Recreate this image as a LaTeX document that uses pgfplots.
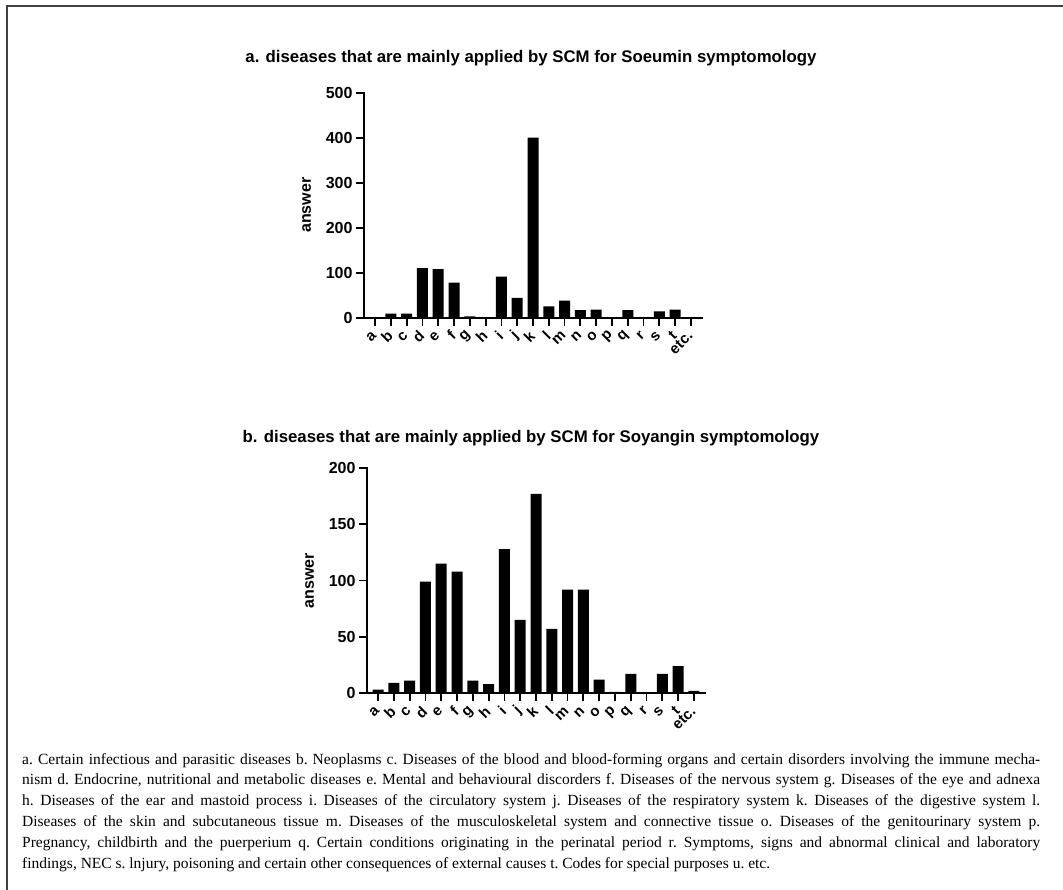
\documentclass[border=0pt]{standalone}
\usepackage{pgfplots}
\pgfplotsset{compat=1.18}
\usepackage{fontspec}
\setmainfont{Liberation Serif}
\setsansfont{Liberation Sans}

\pgfplotsset{
  scm/.style={
    scale only axis, width=338pt, height=225pt,
    anchor=south west,
    axis lines*=left,
    axis line style={line width=2pt, line cap=rect},
    xmin=-0.7, xmax=20.7, ymin=0,
    xtick={0,...,20},
    xticklabels={a,b,c,d,e,f,g,h,i,j,k,l,m,n,o,p,q,r,s,t,etc.},
    tick style={line width=1.8pt, black},
    major tick length=8pt,
    tick align=outside,
    ybar, bar width=11pt,
    /pgf/number format/assume math mode=true,
    ticklabel style={font=\sffamily\bfseries\fontsize{16}{16}\selectfont},
    xticklabel style={rotate=45, anchor=east, inner sep=1pt, font=\sffamily\bfseries\fontsize{15}{15}\selectfont},
    xticklabel shift=7pt,
    ylabel={answer},
    ylabel style={font=\sffamily\bfseries\fontsize{16}{16}\selectfont, at={(axis description cs:-0.17,0.5)}, anchor=center},
    clip=false,
  }
}

\pgfplotstableread{
cat A B
0 0 3
1 9 9
2 9 11
3 110 99
4 108 115
5 78 108
6 3 11
7 0 8
8 91 128
9 44 65
10 400 177
11 25 57
12 38 92
13 17 92
14 18 12
15 0 1
16 17 17
17 0 0
18 14 17
19 18 24
20 0 2
}\scmdata

\begin{document}
\begin{tikzpicture}
\path[use as bounding box] (0pt,0pt) rectangle (1063pt,-890pt);
\draw[black!75, line width=1.5pt] (7pt,-890pt) -- (7pt,-6pt) -- (1063pt,-6pt);

\node[font=\sffamily\bfseries\fontsize{16.8}{16.8}\selectfont] at (531pt,-58pt)
  {a. diseases that are mainly applied by SCM for Soeumin symptomology};
\node[font=\sffamily\bfseries\fontsize{16.8}{16.8}\selectfont] at (531pt,-438pt)
  {b. diseases that are mainly applied by SCM for Soyangin symptomology};

\begin{axis}[scm, at={(364pt,-317.7pt)}, ymax=500, ytick={0,100,...,500}]
\addplot[fill=black, draw=none] table[x=cat, y=A] {\scmdata};
\end{axis}

\begin{axis}[scm, at={(367pt,-693pt)}, ymax=200, ytick={0,50,...,200}]
\addplot[fill=black, draw=none] table[x=cat, y=B] {\scmdata};
\end{axis}

\node[anchor=north west, text width=1018pt, align=justify, inner sep=0pt,
      font=\fontsize{15.5}{20.8}\selectfont] at (22pt,-753pt) {\frenchspacing
a. Certain infectious and parasitic diseases b. Neoplasms c. Diseases of the blood and blood-forming organs and certain disorders involving the immune mecha-\linebreak
nism d. Endocrine, nutritional and metabolic diseases e. Mental and behavioural discorders f. Diseases of the nervous system g. Diseases of the eye and adnexa\linebreak
h. Diseases of the ear and mastoid process i. Diseases of the circulatory system j. Diseases of the respiratory system k. Diseases of the digestive system l.\linebreak
Diseases of the skin and subcutaneous tissue m. Diseases of the musculoskeletal system and connective tissue o. Diseases of the genitourinary system p.\linebreak
Pregnancy, childbirth and the puerperium q. Certain conditions originating in the perinatal period r. Symptoms, signs and abnormal clinical and laboratory\linebreak
findings, NEC s. lnjury, poisoning and certain other consequences of external causes t. Codes for special purposes u. etc.};
\end{tikzpicture}
\end{document}
